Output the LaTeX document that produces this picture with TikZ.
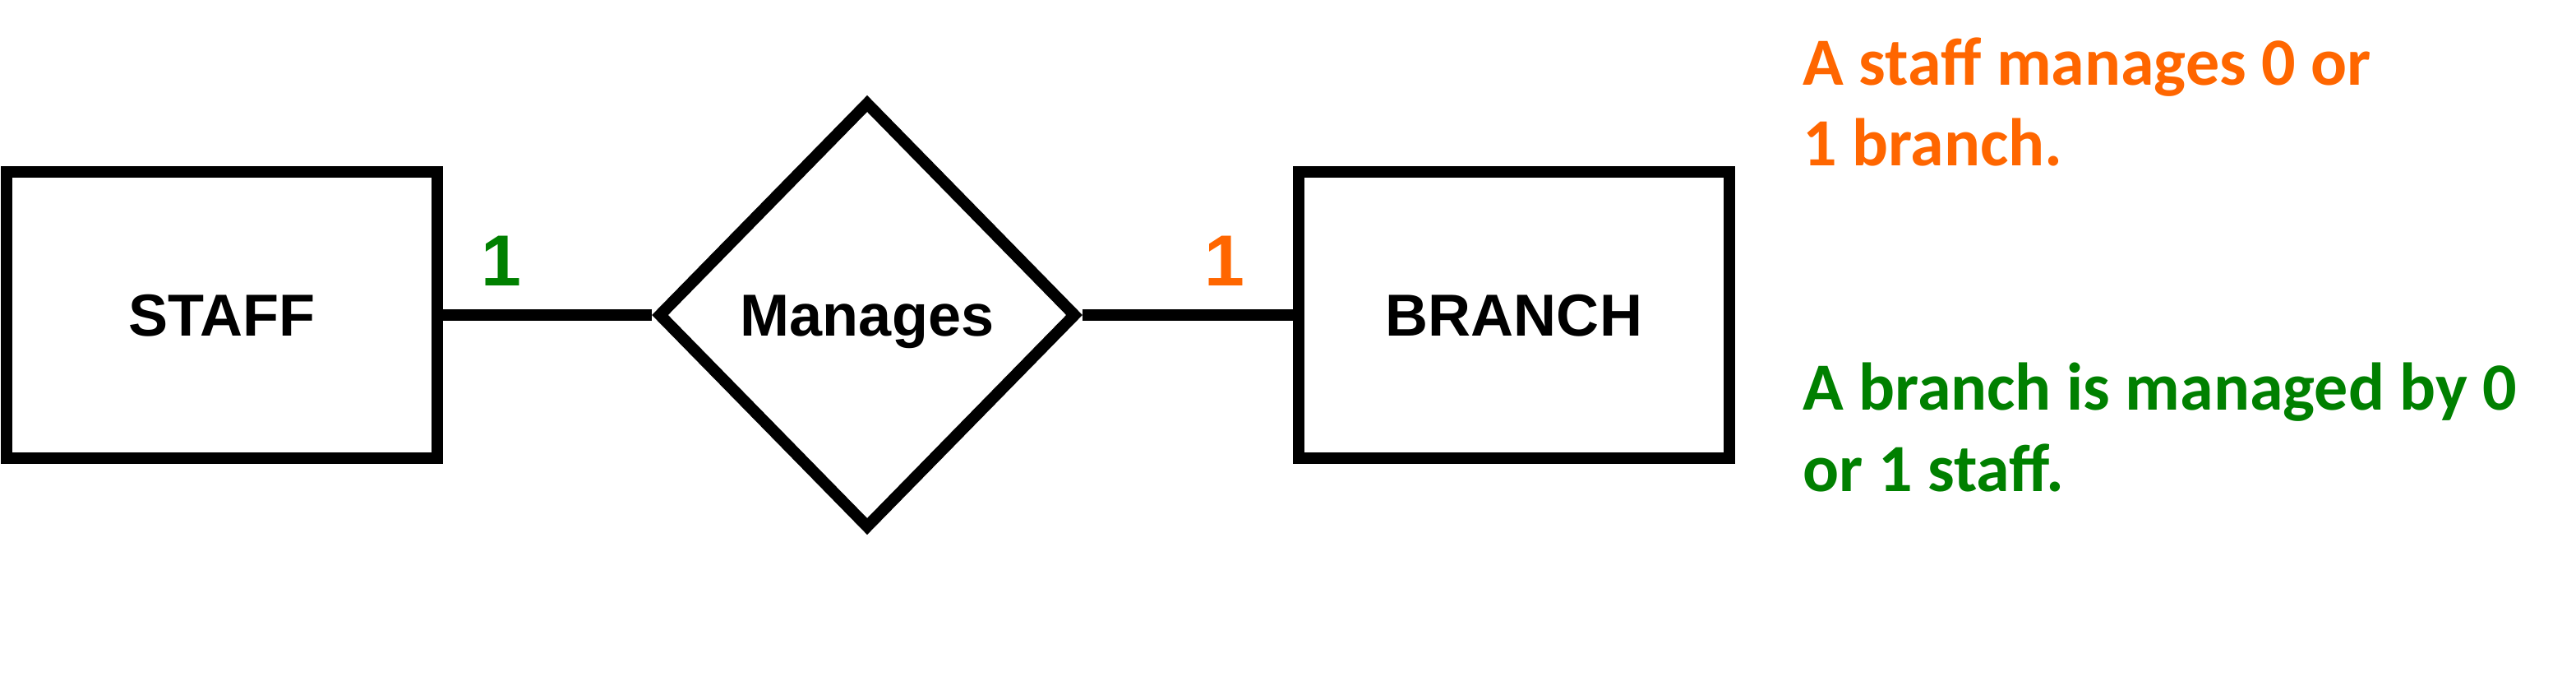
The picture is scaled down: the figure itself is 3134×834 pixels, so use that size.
\documentclass[tikz,border=0pt]{standalone}
\usepackage{fontspec}
\setmainfont{Carlito}
\newfontfamily\arialfont{Liberation Sans}
\usetikzlibrary{shapes.geometric}
\definecolor{noteorange}{RGB}{255,102,0}
\definecolor{notegreen}{RGB}{0,128,0}

\begin{document}
\begin{tikzpicture}[x=0.02cm, y=-0.02cm,
    entity/.style={draw, line width=8pt, minimum width=10.48cm, minimum height=6.96cm, inner sep=0pt, text height=29.4pt, text depth=0pt, font=\arialfont\bfseries\fontsize{41}{48}\selectfont},
    relation/.style={draw, diamond, line width=8pt, minimum width=10.2cm, minimum height=10.4cm, inner sep=0pt, text height=29.4pt, text depth=0pt, font=\arialfont\bfseries\fontsize{41}{48}\selectfont},
    link/.style={line width=8pt},
    card/.style={font=\arialfont\bfseries\fontsize{50}{60}\selectfont, inner sep=0pt, anchor=base},
    note/.style={font=\bfseries\fontsize{46.7}{56.3}\selectfont, align=left, inner sep=0pt, anchor=base west}
]
    \useasboundingbox (0, 0) rectangle (3134, 834);

    % Entities and relationship
    \node[entity] (staff) at (270, 383) {STAFF};
    \node[relation] (manages) at (1055, 383) {Manages};
    \node[entity] (branch) at (1842, 383) {BRANCH};

    % Connectors
    \draw[link] (staff.east) -- (manages.west);
    \draw[link] (manages.east) -- (branch.west);

    % Cardinalities
    \node[card, notegreen] (card staff) at (610, 348) {1};
    \node[card, noteorange] (card branch) at (1490, 348) {1};

    % Notes (base = last line)
    \node[note, noteorange] (note staff) at (2193, 202) {A staff manages 0 or\\1 branch.};
    \node[note, notegreen] (note branch) at (2193, 597) {A branch is managed by 0\\or 1 staff.};

\end{tikzpicture}
\end{document}
